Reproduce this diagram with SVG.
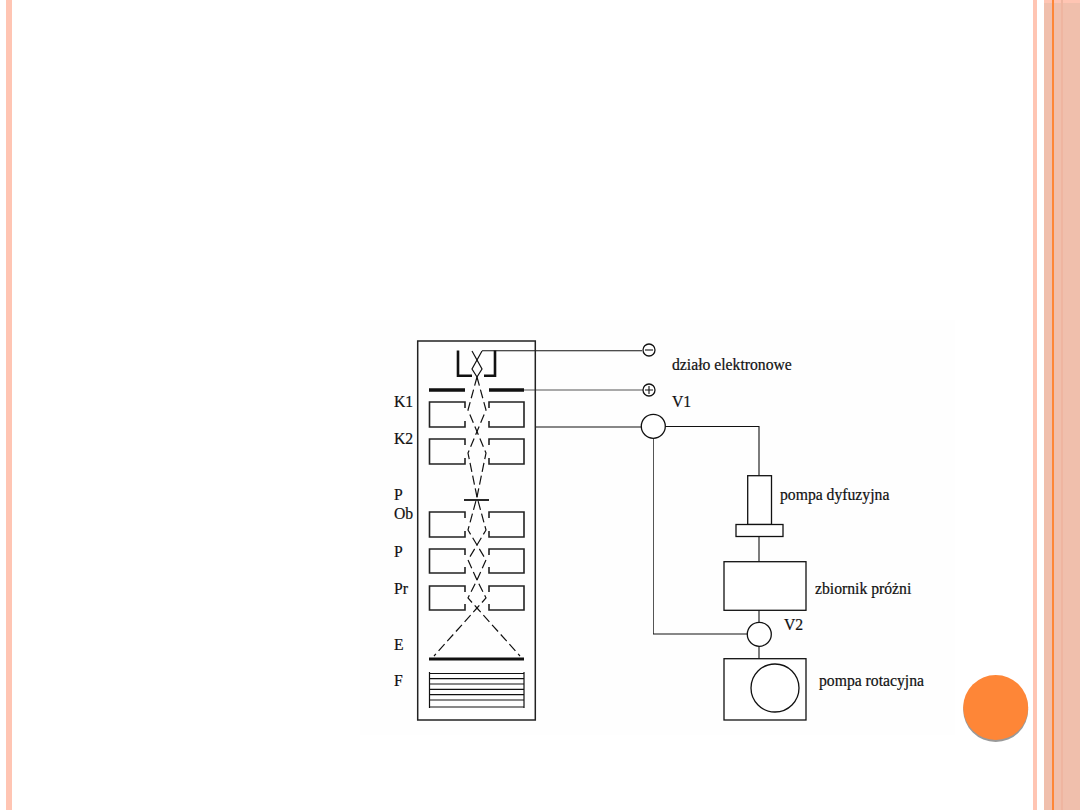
<svg xmlns="http://www.w3.org/2000/svg" width="1080" height="810" viewBox="0 0 1080 810">
<style>
.t{font-family:"Liberation Serif","Times New Roman",serif;font-size:15.7px;fill:#111;stroke:#111;stroke-width:.2}
.l{fill:none;stroke:#111;stroke-width:1.1}
.g{fill:none;stroke:#555;stroke-width:1}
.n{fill:#fff;stroke:#111;stroke-width:1.3}
.p{fill:none;stroke:#222;stroke-width:1.6}
.b{fill:none;stroke:#111;stroke-width:1.2;stroke-dasharray:9 4}
.h{fill:none;stroke:#111;stroke-width:1.2}
</style>
<rect width="1080" height="810" fill="#fff"/>
<rect x="360" y="320" width="595" height="415" fill="#fefefe"/>
<g id="frame">
<rect x="6" y="0" width="6" height="810" fill="#ffc5b3"/>
<rect x="1033" y="0" width="4" height="810" fill="#ffc5b3"/>
<rect x="1044" y="0" width="36" height="810" fill="#f0bfac"/>
<rect x="1044" y="0" width="36" height="3" fill="#ffc5b3"/>
<rect x="1061" y="0" width="2" height="810" fill="#efb5a0"/>
<rect x="1052" y="0" width="2" height="810" fill="#fe8637"/>
<circle cx="995.7" cy="709.5" r="32.5" fill="#999"/>
<circle cx="995.7" cy="707.5" r="32.5" fill="#fe8637"/>
</g>
<g id="connectors">
<path class="l" d="M482 350.7H642"/>
<path class="g" d="M524 390H643"/>
<path class="l" d="M535.5 427H641"/>
<path class="l" d="M665 426.5H759V475.7"/>
<path class="l" d="M759 537V562"/>
<path class="l" d="M759 610V622"/>
<path class="g" d="M653.5 438V634"/>
<path class="l" d="M653 634H747.5"/>
<path class="l" d="M759 646V659"/>
</g>
<g id="column">
<rect x="417.7" y="341" width="117.6" height="379" fill="none" stroke="#222" stroke-width="1.5"/>
<path d="M458 350.5V375.7H472M495 350.5V375.7H484" fill="none" stroke="#111" stroke-width="2.6"/>
<path d="M429 390H465M489 390H524" fill="none" stroke="#111" stroke-width="3.5"/>
<path class="p" d="M465 408V402H429.5V427H465V421"/>
<path class="p" d="M489 408V402H524V427H489V421"/>
<path class="p" d="M465 445V439H429.5V464H465V458"/>
<path class="p" d="M489 445V439H524V464H489V458"/>
<path class="p" d="M465 518V512H429.5V537H465V531"/>
<path class="p" d="M489 518V512H524V537H489V531"/>
<path class="p" d="M465 555V549H429.5V573H465V567"/>
<path class="p" d="M489 555V549H524V573H489V567"/>
<path class="p" d="M465 592V586H429.5V610H465V604"/>
<path class="p" d="M489 592V586H524V610H489V604"/>
<path d="M464 500H489" fill="none" stroke="#111" stroke-width="1.8"/>
<path class="h" d="M472 351L482 369L477 377"/>
<path class="h" d="M482 351L472 369L477 377"/>
<path class="b" d="M477 377L468 410L486 453L477 497L468 530L486 560L477 580L468 598L477 608L520 656"/>
<path class="b" d="M477 377L486 410L468 453L477 497L486 530L468 560L477 580L486 598L477 608L434 656"/>
<path d="M429 659H524" fill="none" stroke="#111" stroke-width="3"/>
<path class="h" d="M429.5 672V708M524 672V708M429.5 673.5H524M429.5 678.7H524M429.5 684H524M429.5 689.3H524M429.5 694.7H524M429.5 700H524M429.5 707H524"/>
</g>
<g id="labels-left">
<text class="t" x="394" y="407">K1</text>
<text class="t" x="394" y="444">K2</text>
<text class="t" x="394" y="500">P</text>
<text class="t" x="394" y="519">Ob</text>
<text class="t" x="394" y="557">P</text>
<text class="t" x="394" y="594">Pr</text>
<text class="t" x="394" y="650">E</text>
<text class="t" x="394" y="686">F</text>
</g>
<g id="minus">
<circle class="n" cx="649" cy="350" r="6"/>
<path class="l" d="M645 350H653"/>
<text class="t" x="672" y="370">działo elektronowe</text>
</g>
<g id="plus">
<circle class="n" cx="649" cy="390" r="6"/>
<path class="l" d="M645 390H653M649 386V394"/>
</g>
<g id="v1">
<circle class="n" cx="653.3" cy="426.3" r="12"/>
<text class="t" x="672" y="407">V1</text>
</g>
<g id="dyfuzyjna">
<rect class="n" x="747.7" y="475.7" width="23.8" height="48.8"/>
<rect class="n" x="736" y="524.5" width="47" height="12"/>
<text class="t" x="780" y="500">pompa dyfuzyjna</text>
</g>
<g id="zbiornik">
<rect class="n" x="724" y="561.7" width="82" height="48.6"/>
<text class="t" x="815" y="594">zbiornik próżni</text>
</g>
<g id="v2">
<circle class="n" cx="759.3" cy="634.3" r="12"/>
<text class="t" x="784" y="630">V2</text>
</g>
<g id="rotacyjna">
<rect class="n" x="724" y="658.7" width="82" height="61.3"/>
<circle class="n" cx="775" cy="688" r="24"/>
<text class="t" x="819" y="686">pompa rotacyjna</text>
</g>
</svg>
